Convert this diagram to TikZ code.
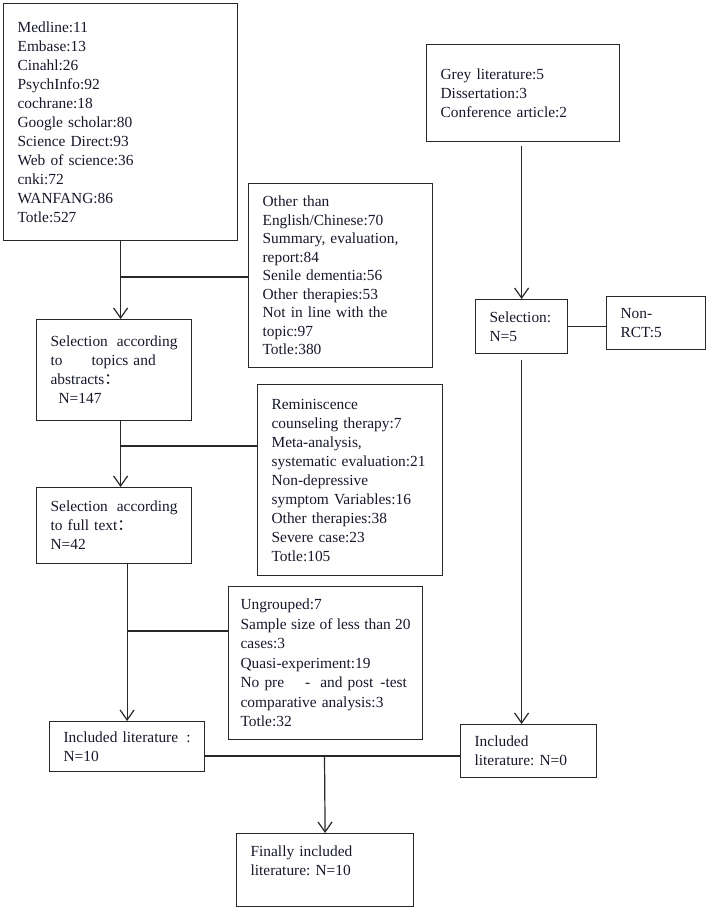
\documentclass[tikz,border=0pt]{standalone}
\usepackage{fontspec}
\setmainfont{Liberation Serif}
\newfontfamily\cjkfont{Noto Sans CJK SC}
\usetikzlibrary{arrows.meta}
\definecolor{inktext}{RGB}{22,24,42}
\definecolor{inkline}{RGB}{40,40,40}
\def\fwcolon{{\cjkfont ：}}
\frenchspacing

\begin{document}
\begin{tikzpicture}[x=1pt,y=-1pt,
		box/.style={draw=inkline, line width=1.2pt, rectangle, anchor=north west, align=left,
			inner xsep=14pt, inner ysep=0pt, text=inktext, font=\fontsize{15.4}{19}\selectfont},
		link/.style={draw=inkline, line width=1.2pt},
		arr/.style={link, -{Straight Barb[length=10pt,width=14pt]}}]
		%%%%% START %%%%%
		\useasboundingbox (0,0) rectangle (708,911);
		
		\node[box, text width=206pt, minimum height=237pt] (src) at (3,3)
			{Medline:11\\Embase:13\\Cinahl:26\\PsychInfo:92\\cochrane:18\\Google scholar:80\\Science Direct:93\\Web of science:36\\cnki:72\\WANFANG:86\\Totle:527};
		\node[box, text width=156pt, minimum height=184pt, font=\fontsize{15.4}{18.5}\selectfont] (ex1) at (248,183)
			{Other than\\English/Chinese:70\\Summary, evaluation,\\report:84\\Senile dementia:56\\Other therapies:53\\Not in line with the\\topic:97\\Totle:380};
		\node[box, text width=127pt, minimum height=101pt] (sel1) at (36,319)
			{Selection\hfill according\\to\hspace{29pt}topics and\\abstracts\fwcolon\\\hspace*{8pt}N=147};
		\node[box, text width=157pt, minimum height=191pt] (ex2) at (257,384)
			{Reminiscence\\counseling therapy:7\\Meta-analysis,\\systematic evaluation:21\\Non-depressive\\symptom Variables:16\\Other therapies:38\\Severe case:23\\Totle:105};
		\node[box, text width=127pt, minimum height=76pt] (sel2) at (36,487)
			{Selection\hfill according\\to full text\fwcolon\\N=42};
		\node[box, inner xsep=12pt, text width=170pt, minimum height=153pt, font=\fontsize{15.4}{19.5}\selectfont] (ex3) at (228,586)
			{Ungrouped:7\\Sample\hfill size\hfill of\hfill less\hfill than\hfill 20\\cases:3\\Quasi-experiment:19\\No pre\hspace{21pt}-\hspace{10pt}and post\hspace{7pt}-test\\comparative analysis:3\\Totle:32};
		\node[box, text width=127pt, minimum height=50pt] (inc1) at (49,721)
			{Included literature\hfill:\\N=10};
		
		\node[box, text width=165pt, minimum height=97pt] (grey) at (426,44)
			{Grey literature:5\\Dissertation:3\\Conference article:2};
		\node[box, text width=64pt, minimum height=54pt] (selR) at (475,299)
			{Selection:\\N=5};
		\node[box, text width=71pt, minimum height=53pt] (nonrct) at (606,296)
			{Non-\\RCT:5};
		\node[box, text width=108pt, minimum height=53pt] (incR) at (460,724)
			{Included\\literature: N=0};
		
		\node[box, text width=149pt, minimum height=73pt] (fin) at (236,833)
			{Finally included\\literature: N=10\\\mbox{}};
		
		\coordinate (j1) at (120,277);
		\coordinate (j2) at (120,446);
		\coordinate (j3) at (126.5,631);
		\coordinate (j4) at (324.5,756);
		
		\draw[arr] (src.south) -- (src.south |- sel1.north);
		\draw[link] (j1) -- (j1 -| ex1.west);
		\draw[arr] (sel1.south -| src.south) -- (sel2.north -| src.south);
		\draw[link] (j2) -- (j2 -| ex2.west);
		\draw[arr] (sel2.south -| inc1.north) -- (inc1.north);
		\draw[link] (j3) -- (j3 -| ex3.west);
		
		\draw[arr, shorten <=4pt] (grey.south -| selR.north) -- (selR.north);
		\draw[link] (selR.east) -- (selR.east -| nonrct.west);
		\draw[arr, shorten <=6pt] (selR.south) -- (selR.south |- incR.north);
		
		\draw[link] (j4 -| inc1.east) -- (j4 -| incR.west);
		\draw[arr] (j4) -- (fin.north);
		%%%%% END %%%%%
	\end{tikzpicture}
\end{document}
